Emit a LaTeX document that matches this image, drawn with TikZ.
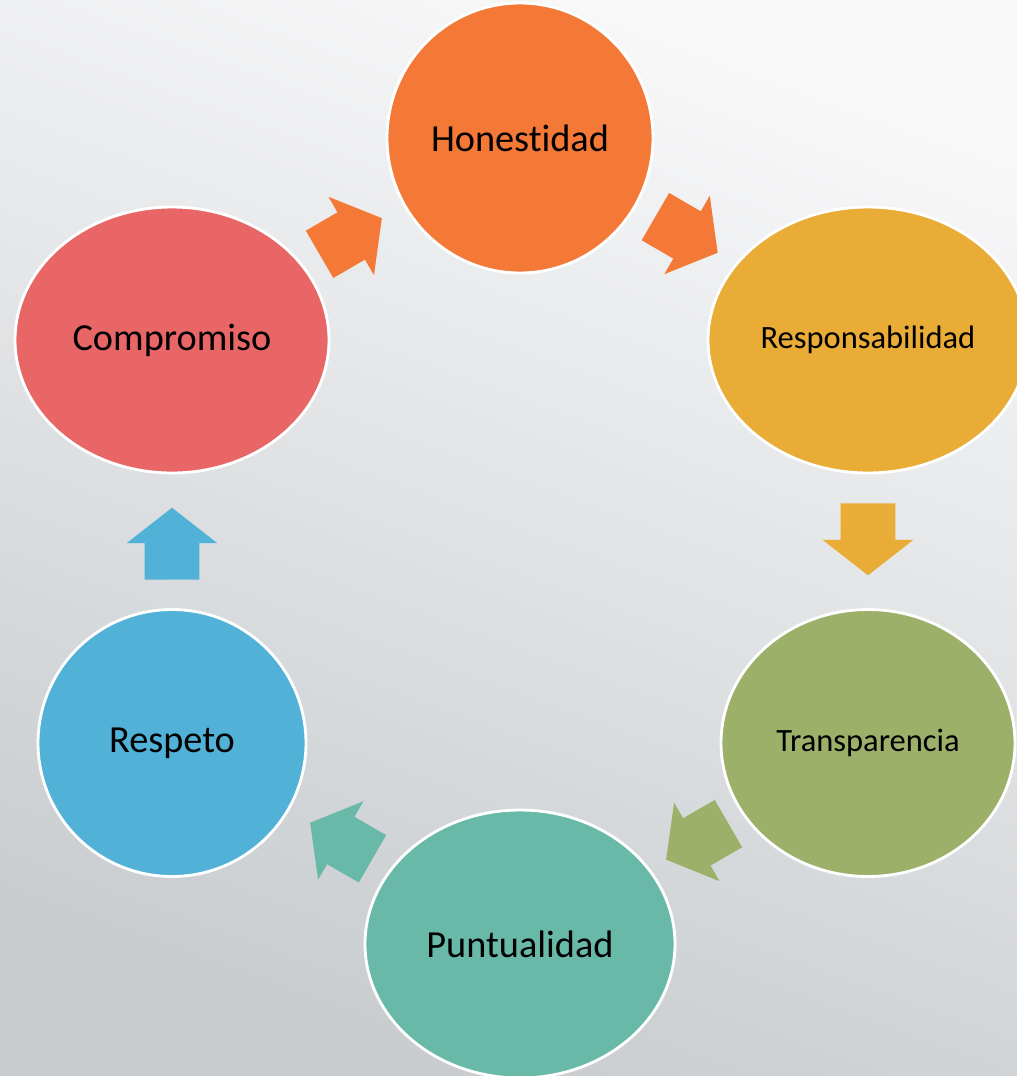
\documentclass[tikz,border=0pt]{standalone}
\usepackage{fontspec}
\setmainfont{Carlito}[Ligatures=NoCommon]
\usetikzlibrary{shapes.geometric}
\usetikzlibrary{shapes.arrows}

\definecolor{honcol}{HTML}{F47936}
\definecolor{rescol}{HTML}{E9AC36}
\definecolor{tracol}{HTML}{9DB06A}
\definecolor{puncol}{HTML}{68B9A7}
\definecolor{respcol}{HTML}{52B1D6}
\definecolor{comcol}{HTML}{E86666}
\definecolor{bgtop}{HTML}{F8F8F9}
\definecolor{bgbot}{HTML}{C8CCCF}

\begin{document}
\begin{tikzpicture}[x=0.02cm,y=-0.02cm,
  value node/.style={ellipse,draw=white,line width=1.6pt,inner sep=0pt,
  font=\fontsize{21.8}{26}\selectfont},
  small text/.style={font=\fontsize{18.5}{22}\selectfont},
  cycle arrow/.style={single arrow,draw=none,fill=#1,sloped,allow upside down,
  pos=0.468,minimum height=1.44cm,minimum width=0pt,inner xsep=0pt,inner ysep=0.54cm,
  single arrow head extend=0.36cm,single arrow tip angle=104}]
  \useasboundingbox (0,0) rectangle (1017,1076);
  \shade[top color=bgtop,bottom color=bgbot,shading angle=-20]
    (0,0) rectangle (1017,1076);

  \node[value node,fill=honcol,minimum width=5.32cm,minimum height=5.4cm] (hon) at (520,138) {Honestidad};
  \node[value node,fill=rescol,small text,minimum width=6.4cm,minimum height=5.32cm] (res) at (868,340) {Responsabilidad};
  \node[value node,fill=tracol,small text,minimum width=5.88cm,minimum height=5.34cm] (tra) at (868,743) {Transparencia};
  \node[value node,fill=puncol,minimum width=6.2cm,minimum height=5.36cm] (pun) at (520,944) {Puntualidad};
  \node[value node,fill=respcol,minimum width=5.36cm,minimum height=5.34cm] (resp) at (172,743) {Respeto};
  \node[value node,fill=comcol,minimum width=6.28cm,minimum height=5.32cm] (com) at (172,340) {Compromiso};

  % block arrows between the centres
  \path (com.center) -- node[cycle arrow=honcol,pos=0.487] (a1) {} (hon.center);
  \path (hon.center) -- node[cycle arrow=honcol,pos=0.452] (a2) {} (res.center);
  \path (res.center) -- node[cycle arrow=rescol] (a3) {} (tra.center);
  \path (tra.center) -- node[cycle arrow=tracol,pos=0.464] (a4) {} (pun.center);
  \path (pun.center) -- node[cycle arrow=puncol,pos=0.487] (a5) {} (resp.center);
  \path (resp.center) -- node[cycle arrow=respcol] (a6) {} (com.center);
\end{tikzpicture}
\end{document}
